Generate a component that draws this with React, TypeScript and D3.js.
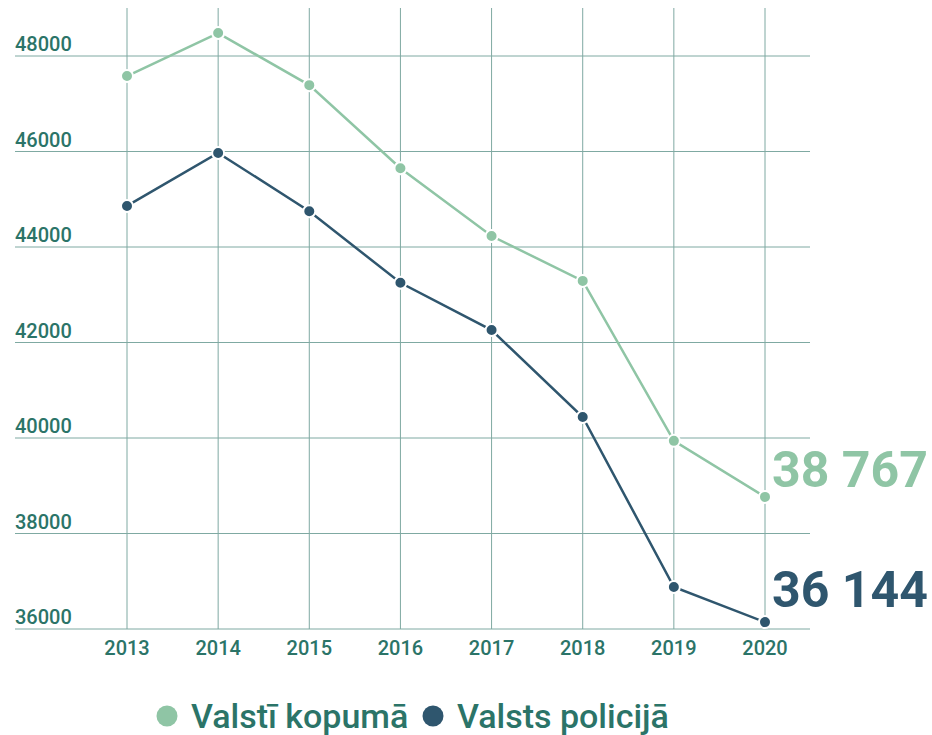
import React from 'react';
import * as d3 from 'd3';

const years = [2013, 2014, 2015, 2016, 2017, 2018, 2019, 2020];
const totalValues = [47580, 48480, 47390, 45650, 44230, 43290, 39940, 38767];
const policeValues = [44860, 45970, 44750, 43250, 42260, 40440, 36880, 36144];
const yTicks = [36000, 38000, 40000, 42000, 44000, 46000, 48000];
const seriesNames = ['Valstī kopumā', 'Valsts policijā'];
const endLabels = ['38 767', '36 144'];

const LIGHT = '#8fc5a5';
const DARK = '#2f566e';
const GRID = '#7fa9a2';
const TEXT = '#2b7468';
const FONT = 'Roboto, "Noto Sans", sans-serif';

export default function App() {
  const width = 932;
  const height = 735;

  const x = d3.scaleLinear().domain([2013, 2020]).range([127, 765]);
  const y = d3.scaleLinear().domain([36000, 48000]).range([629, 56]);

  const line = d3
    .line<number>()
    .x((d, i) => x(years[i]))
    .y((d) => y(d));

  const series = [
    { name: seriesNames[0], values: totalValues, color: LIGHT, label: endLabels[0], dy: -10 },
    { name: seriesNames[1], values: policeValues, color: DARK, label: endLabels[1], dy: -15 },
  ];

  return (
    <svg width={width} height={height} style={{ position: 'absolute', left: 0, top: 0 }}>
      {/* gridlines */}
      {years.map((yr) => (
        <line key={yr} x1={x(yr)} x2={x(yr)} y1={8} y2={y(36000)} stroke={GRID} strokeWidth={1} />
      ))}
      {yTicks.map((t) => (
        <g key={t}>
          <line x1={15} x2={810} y1={y(t)} y2={y(t)} stroke={GRID} strokeWidth={1} />
          <text x={15} y={y(t) - 5} fill={TEXT} fontFamily={FONT} fontSize={20} fontWeight={500}>
            {t}
          </text>
        </g>
      ))}
      {years.map((yr) => (
        <text
          key={yr}
          x={x(yr)}
          y={655}
          textAnchor="middle"
          fill={TEXT}
          fontFamily={FONT}
          fontSize={20}
          fontWeight={500}
        >
          {yr}
        </text>
      ))}

      {series.map((s) => (
        <g key={s.name}>
          <path d={line(s.values) || ''} fill="none" stroke={s.color} strokeWidth={2.5} />
          {s.values.map((v, i) => (
            <circle key={i} cx={x(years[i])} cy={y(v)} r={6} fill={s.color} stroke="#fff" strokeWidth={2} />
          ))}
          <text
            x={x(2020) + 7}
            y={y(s.values[s.values.length - 1]) + s.dy}
            fill={s.color}
            fontFamily={FONT}
            fontSize={50}
            fontWeight={700}
          >
            {s.label}
          </text>
        </g>
      ))}

      {/* legend */}
      <circle cx={167} cy={716} r={10.5} fill={LIGHT} />
      <text x={191} y={728} fill={TEXT} fontFamily={FONT} fontSize={34} fontWeight={500}>
        {seriesNames[0]}
      </text>
      <circle cx={433} cy={716} r={10.5} fill={DARK} />
      <text x={457} y={728} fill={TEXT} fontFamily={FONT} fontSize={34} fontWeight={500}>
        {seriesNames[1]}
      </text>
    </svg>
  );
}
